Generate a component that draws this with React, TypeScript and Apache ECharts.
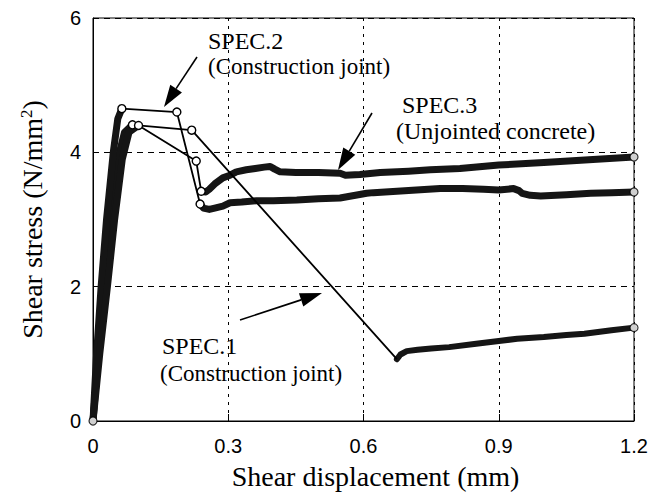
import React, { useEffect, useRef } from "react";
import * as echarts from "echarts";

type P = [number, number];

// Tick labels
const xTickLabels = ["0", "0.3", "0.6", "0.9", "1.2"];
const yTickLabels = ["0", "2", "4", "6"];

// SPEC.1 (Construction joint)
const spec1Rise: P[] = [[0, 0], [0.012, 1], [0.025, 2], [0.04, 3], [0.055, 3.9], [0.07, 4.3], [0.0875, 4.41]];
const spec1Drop: P[] = [[0.0875, 4.41], [0.219, 4.33], [0.674, 0.92]];
const spec1Residual: P[] = [
  [0.674, 0.92], [0.682, 0.99], [0.696, 1.04], [0.72, 1.06], [0.75, 1.08], [0.79, 1.1],
  [0.85, 1.15], [0.9, 1.19], [0.941, 1.225], [1.0, 1.25], [1.05, 1.28], [1.09, 1.3],
  [1.15, 1.35], [1.2, 1.39],
];

// SPEC.2 (Construction joint)
const spec2Rise: P[] = [[0, 0], [0.008, 1], [0.018, 2], [0.03, 3], [0.045, 4], [0.055, 4.5], [0.064, 4.65]];
const spec2Drop: P[] = [[0.064, 4.65], [0.186, 4.6], [0.2375, 3.23]];
const spec2Residual: P[] = [
  [0.2375, 3.23], [0.245, 3.17], [0.258, 3.15], [0.27, 3.17], [0.288, 3.2], [0.304, 3.25],
  [0.33, 3.26], [0.362, 3.28], [0.4, 3.28], [0.452, 3.29], [0.5, 3.31], [0.548, 3.32],
  [0.607, 3.39], [0.622, 3.4], [0.7, 3.43], [0.77, 3.46], [0.82, 3.46], [0.866, 3.45],
  [0.9, 3.44], [0.933, 3.46], [0.945, 3.43], [0.952, 3.39], [0.97, 3.36], [0.993, 3.35],
  [1.05, 3.37], [1.104, 3.39], [1.15, 3.4], [1.2, 3.41],
];

// SPEC.3 (Unjointed concrete)
const spec3Rise: P[] = [[0, 0], [0.015, 1], [0.032, 2], [0.048, 3], [0.065, 3.9], [0.08, 4.3], [0.101, 4.4]];
const spec3Drop: P[] = [[0.101, 4.4], [0.229, 3.87], [0.24, 3.42]];
const spec3Residual: P[] = [
  [0.24, 3.42], [0.25, 3.41], [0.258, 3.45], [0.27, 3.53], [0.288, 3.62], [0.304, 3.66],
  [0.318, 3.71], [0.34, 3.74], [0.36, 3.76], [0.38, 3.78], [0.393, 3.79], [0.403, 3.75],
  [0.415, 3.71], [0.45, 3.7], [0.5, 3.7], [0.548, 3.69], [0.56, 3.66], [0.592, 3.67],
  [0.637, 3.7], [0.7, 3.72], [0.748, 3.74], [0.814, 3.76], [0.9, 3.81], [1.0, 3.85],
  [1.1, 3.89], [1.2, 3.93],
];

const SERIF = '"Liberation Serif", "Times New Roman", serif';
const SANS = '"Liberation Sans", Arial, sans-serif';

function arrow(tail: P, tip: P, headLen = 22, halfW = 7): any[] {
  const dx = tip[0] - tail[0];
  const dy = tip[1] - tail[1];
  const len = Math.hypot(dx, dy);
  const ux = dx / len, uy = dy / len;
  const bx = tip[0] - headLen * ux, by = tip[1] - headLen * uy;
  const nx = -uy * halfW, ny = ux * halfW;
  return [
    { type: "line", shape: { x1: tail[0], y1: tail[1], x2: bx, y2: by }, style: { stroke: "#000", lineWidth: 1.6 }, z: 100 },
    { type: "polygon", shape: { points: [[tip[0], tip[1]], [bx + nx, by + ny], [bx - nx, by - ny]] }, style: { fill: "#000" }, z: 100 },
  ];
}

function txt(text: string, x: number, y: number, size = 23): any {
  return { type: "text", x, y, z: 100, style: { text, font: `${size}px ${SERIF}`, fill: "#000", verticalAlign: "top", align: "left" } };
}

export default function App() {
  const ref = useRef<HTMLDivElement>(null);
  useEffect(() => {
    if (!ref.current) return;
    const chart = echarts.init(ref.current, null, { renderer: "svg" });
    const thick = (name: string, data: P[], w: number) => ({
      name, type: "line", data, showSymbol: false, symbol: "none", z: 2,
      lineStyle: { color: "#151515", width: w, cap: "round", join: "round" },
    });
    const thin = (name: string, data: P[], hideLast = false) => ({
      name, type: "line", symbol: "circle", symbolSize: 8, showSymbol: true, z: 4,
      data: data.map((p, i) => (hideLast && i === data.length - 1 ? { value: p, symbolSize: 0 } : { value: p })),
      lineStyle: { color: "#000", width: 1.8 },
      itemStyle: { color: "#fff", borderColor: "#000", borderWidth: 1.4 },
    });
    const endPoints: P[] = [spec1Rise[0], spec1Residual[spec1Residual.length - 1], spec2Residual[spec2Residual.length - 1], spec3Residual[spec3Residual.length - 1]];
    chart.setOption({
      animation: false,
      backgroundColor: "#fff",
      grid: { left: 93, right: 20, top: 18, bottom: 77, show: true, borderColor: "#000", borderWidth: 1, backgroundColor: "transparent" },
      xAxis: {
        type: "value", min: 0, max: 1.2, interval: 0.3,
        name: "Shear displacement (mm)", nameLocation: "middle", nameGap: 41,
        nameTextStyle: { fontFamily: SERIF, fontSize: 28, color: "#000", padding: [0, 0, 0, 24] },
        axisLine: { show: true, lineStyle: { color: "#000", width: 1 } },
        axisTick: { show: true, inside: true, length: 7, lineStyle: { color: "#000" } },
        axisLabel: { fontFamily: SANS, fontSize: 20, color: "#000", margin: 15, formatter: (v: number) => xTickLabels[Math.round(v / 0.3)] ?? "" },
        splitLine: { show: true, lineStyle: { color: "#000", width: 1, type: [3, 5] } },
      },
      yAxis: {
        type: "value", min: 0, max: 6, interval: 2,
        name: "{t|Shear stress (N/mm}{s|2}{t|)}", nameLocation: "middle", nameGap: 46,
        nameTextStyle: {
          fontFamily: SERIF, fontSize: 28, color: "#000",
          rich: {
            t: { fontFamily: SERIF, fontSize: 28, color: "#000" },
            s: { fontFamily: SERIF, fontSize: 17, color: "#000", verticalAlign: "top", padding: [0, 0, 12, 0] },
          },
        },
        axisLine: { show: true, lineStyle: { color: "#000", width: 1 } },
        axisTick: { show: true, inside: true, length: 6, lineStyle: { color: "#000" } },
        axisLabel: { fontFamily: SANS, fontSize: 20, color: "#000", margin: 12, formatter: (v: number) => yTickLabels[Math.round(v / 2)] ?? "" },
        splitLine: { show: true, lineStyle: { color: "#000", width: 1, type: [6, 5] } },
      },
      series: [
        thick("SPEC.1 rise", spec1Rise, 7),
        thick("SPEC.2 rise", spec2Rise, 7),
        thick("SPEC.3 rise", spec3Rise, 7),
        thick("SPEC.1 residual", spec1Residual, 6),
        thick("SPEC.2 residual", spec2Residual, 7),
        thick("SPEC.3 residual", spec3Residual, 7),
        thin("SPEC.1 drop", spec1Drop, true),
        thin("SPEC.2 drop", spec2Drop),
        thin("SPEC.3 drop", spec3Drop),
        {
          name: "ends", type: "scatter", data: endPoints, symbol: "circle", symbolSize: 8, z: 5,
          itemStyle: { color: "#fff", borderColor: "#000", borderWidth: 1.2 },
        },
      ],
      graphic: [
        txt("SPEC.2", 208, 29, 24),
        txt("(Construction joint)", 208, 55, 23),
        ...arrow([197, 57], [164, 107]),
        txt("SPEC.3", 402, 93, 24),
        txt("(Unjointed concrete)", 396, 119, 24),
        ...arrow([372, 113], [338, 170]),
        txt("SPEC.1", 162, 334, 24),
        txt("(Construction joint)", 160, 362, 23),
        ...arrow([240, 320], [322, 293]),
      ],
    });
    return () => chart.dispose();
  }, []);
  return <div ref={ref} style={{ width: 654, height: 498, position: "absolute", left: 0, top: 0 }} />;
}
